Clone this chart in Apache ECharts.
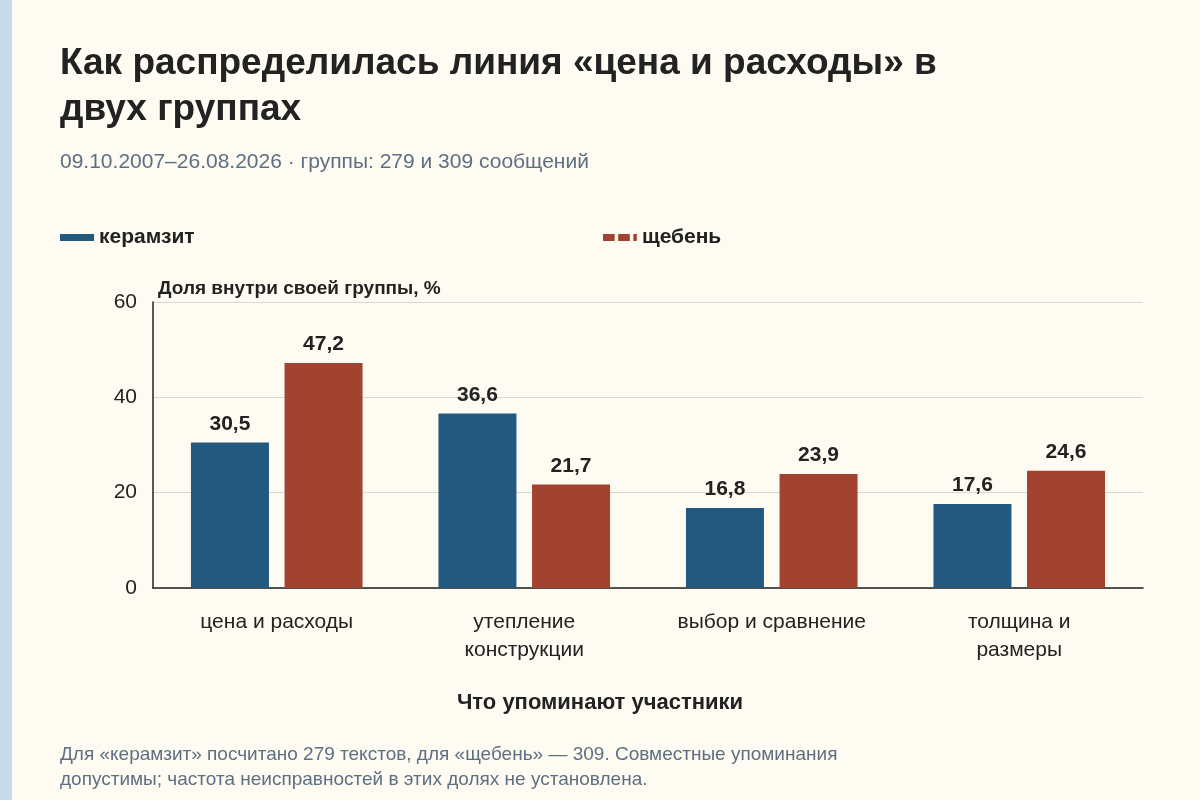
<!DOCTYPE html>
<html><head><meta charset="utf-8">
<script src="https://cdn.jsdelivr.net/npm/echarts@6/dist/echarts.min.js"></script>
<style>html,body{margin:0;padding:0;background:#fdfbf2;}#c{width:1200px;height:800px;}</style>
</head><body><div id="c"></div>
<script>
const categories = ['цена и расходы', 'утепление\nконструкции', 'выбор и сравнение', 'толщина и\nразмеры'];
const keramzit = [30.5, 36.6, 16.8, 17.6];
const scheben = [47.2, 21.7, 23.9, 24.6];
const seriesNames = ['керамзит', 'щебень'];
const colors = ['#23587f', '#a1432f'];
const F = '"Liberation Sans", Arial, sans-serif';
const fmt = p => p.value.toFixed(1).replace('.', ',');
const chart = echarts.init(document.getElementById('c'));
chart.setOption({
  backgroundColor: '#fdfbf2',
  animation: false,
  textStyle: { fontFamily: F },
  title: [
    { text: 'Как распределилась линия «цена и расходы» в\nдвух группах', left: 55, top: 36,
      textStyle: { fontSize: 37, fontWeight: 'bold', color: '#222', lineHeight: 46, fontFamily: F } },
    { text: '09.10.2007–26.08.2026 · группы: 279 и 309 сообщений', left: 55, top: 147,
      textStyle: { fontSize: 21, fontWeight: 'normal', color: '#5f6f82', fontFamily: F } },
    { text: 'Доля внутри своей группы, %', left: 153, top: 274,
      textStyle: { fontSize: 19, fontWeight: 'bold', color: '#222', fontFamily: F } },
    { text: 'Что упоминают участники', left: 'center', top: 687,
      textStyle: { fontSize: 22, fontWeight: 'bold', color: '#222', fontFamily: F } },
    { text: 'Для «керамзит» посчитано 279 текстов, для «щебень» — 309. Совместные упоминания\nдопустимы; частота неисправностей в этих долях не установлена.', left: 55, top: 737,
      textStyle: { fontSize: 19, fontWeight: 'normal', color: '#5f6f82', lineHeight: 25, fontFamily: F } }
  ],
  legend: [
    { data: [seriesNames[0]], left: 55, top: 222, icon: 'rect', itemWidth: 34, itemHeight: 7, itemGap: 8,
      textStyle: { fontSize: 21, fontWeight: 'bold', color: '#222', fontFamily: F } },
    { data: [seriesNames[1]], left: 598, top: 222, itemWidth: 34, itemHeight: 7,
      icon: 'path://M0,0h10v6h-10z M13,0h10v6h-10z M26,0h3v6h-3z',
      textStyle: { fontSize: 21, fontWeight: 'bold', color: '#222', fontFamily: F } }
  ],
  graphic: [{ type: 'rect', left: 0, top: 0, shape: { width: 12, height: 800 }, style: { fill: '#c6dceb' } }],
  grid: { left: 153, right: 57, top: 302, bottom: 212 },
  xAxis: {
    type: 'category', data: categories,
    axisLine: { lineStyle: { color: '#222', width: 1.5 } },
    axisTick: { show: false },
    axisLabel: { fontSize: 21, color: '#222', margin: 20, lineHeight: 28, fontFamily: F }
  },
  yAxis: {
    type: 'value', min: 0, max: 60, interval: 20,
    axisLine: { show: true, lineStyle: { color: '#222', width: 1.5 } },
    axisTick: { show: false },
    splitLine: { lineStyle: { color: '#d9d9d4' } },
    axisLabel: { fontSize: 21, color: '#222', margin: 16, fontFamily: F }
  },
  series: [
    { name: seriesNames[0], type: 'bar', data: keramzit, barWidth: 78, barGap: '20%',
      itemStyle: { color: colors[0] },
      label: { show: true, position: 'top', formatter: fmt, fontSize: 21, fontWeight: 'bold', color: '#222', distance: 8, fontFamily: F } },
    { name: seriesNames[1], type: 'bar', data: scheben, barWidth: 78,
      itemStyle: { color: colors[1] },
      label: { show: true, position: 'top', formatter: fmt, fontSize: 21, fontWeight: 'bold', color: '#222', distance: 8, fontFamily: F } }
  ]
});
</script></body></html>
